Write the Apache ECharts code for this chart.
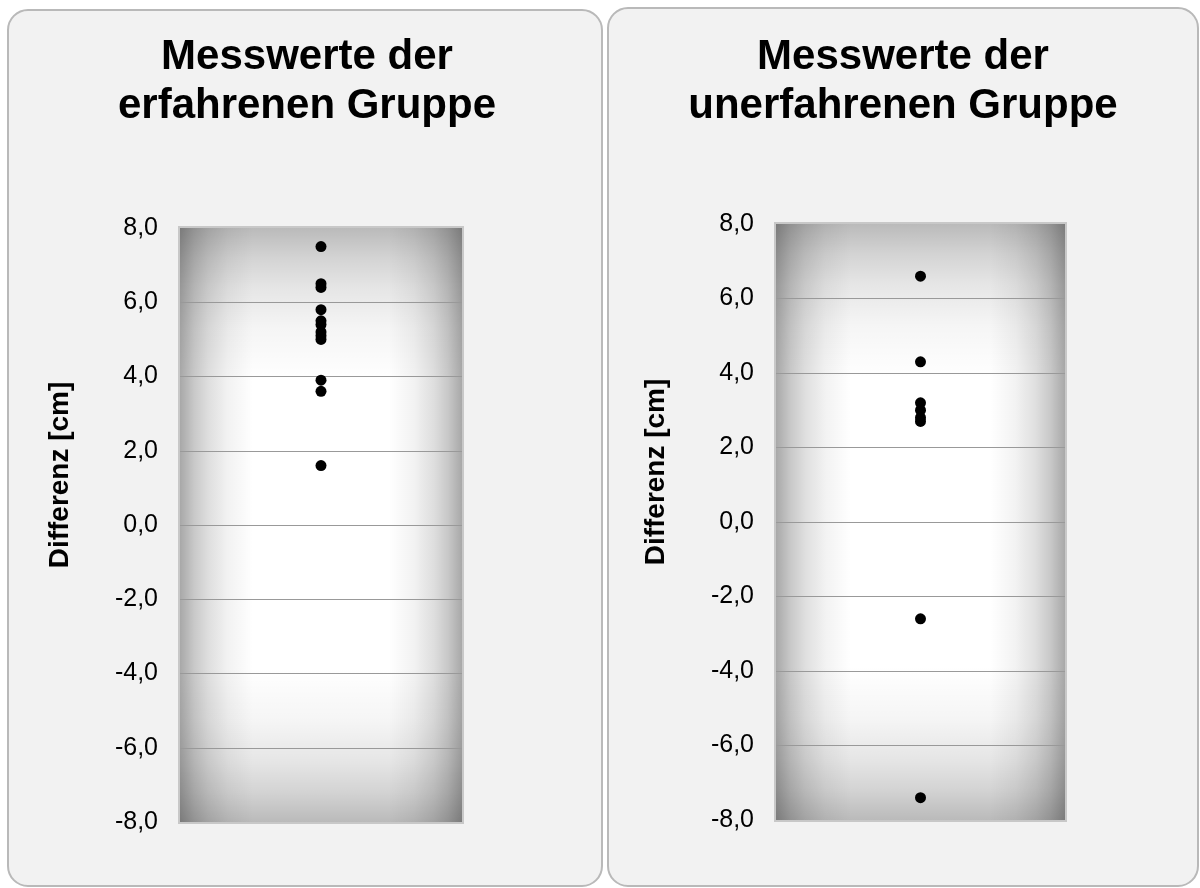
<!DOCTYPE html>
<html><head><meta charset="utf-8">
<script src="https://cdn.jsdelivr.net/npm/echarts@6/dist/echarts.min.js"></script>
<style>html,body{margin:0;padding:0;background:#fff;}#c{width:1200px;height:888px;}</style>
</head><body><div id="c"></div>
<script>
// ---- data ----
const titles = ['Messwerte der\nerfahrenen Gruppe', 'Messwerte der\nunerfahrenen Gruppe'];
const yAxisName = 'Differenz [cm]';
const experienced = [7.5, 6.5, 6.4, 5.8, 5.5, 5.4, 5.2, 5.1, 5.0, 3.9, 3.6, 1.6];
const inexperienced = [6.6, 4.3, 3.2, 3.0, 2.8, 2.7, -2.6, -7.4];
const yMin = -8, yMax = 8, yStep = 2;

// ---- layout ----
const panels = [
  {x: 8, y: 10, w: 594, h: 876},
  {x: 608, y: 8, w: 590, h: 878}
];
const titleCenters = [302, 898];
const grids = [
  {left: 180, top: 228, width: 282, height: 594},
  {left: 776, top: 224, width: 289, height: 596}
];

function ramp(a, dir) {
  const s = [[0, a], [0.05, a * 0.64], [0.1, a * 0.38], [0.17, a * 0.15], [0.26, 0]];
  const stops = [];
  s.forEach(p => stops.push({offset: p[0], color: 'rgba(0,0,0,' + p[1] + ')'}));
  s.slice().reverse().forEach(p => stops.push({offset: 1 - p[0], color: 'rgba(0,0,0,' + p[1] + ')'}));
  return {type: 'linear', x: 0, y: 0, x2: dir === 'h' ? 1 : 0, y2: dir === 'h' ? 0 : 1, colorStops: stops};
}

const graphics = [];
panels.forEach(p => graphics.push({
  type: 'rect', z: -20, silent: true,
  shape: {x: p.x, y: p.y, width: p.w, height: p.h, r: 20},
  style: {fill: '#f2f2f2', stroke: '#b9b9b9', lineWidth: 2}
}));
grids.forEach(g => {
  graphics.push({type: 'rect', z: -10, silent: true,
    shape: {x: g.left - 1, y: g.top - 1, width: g.width + 2, height: g.height + 2},
    style: {fill: '#ffffff', stroke: '#c8c8c8', lineWidth: 2}});
  graphics.push({type: 'rect', z: -9, silent: true,
    shape: {x: g.left, y: g.top, width: g.width, height: g.height},
    style: {fill: ramp(0.27, 'v')}});
  graphics.push({type: 'rect', z: -8, silent: true,
    shape: {x: g.left, y: g.top, width: g.width, height: g.height},
    style: {fill: ramp(0.34, 'h')}});
});

const fmt = v => v.toFixed(1).replace('.', ',');

function yAxis(i) {
  return {
    type: 'value', gridIndex: i, min: yMin, max: yMax, interval: yStep,
    axisLine: {show: false}, axisTick: {show: false},
    axisLabel: {formatter: fmt, color: '#000', fontFamily: 'Liberation Sans, Arial', fontSize: 25, margin: 22},
    splitLine: {show: true, showMinLine: false, showMaxLine: false, lineStyle: {color: '#999', width: 1}},
    name: yAxisName, nameLocation: 'middle', nameGap: 106, nameRotate: 90,
    nameTextStyle: {color: '#000', fontFamily: 'Liberation Sans, Arial', fontWeight: 'bold', fontSize: 28, padding: [0, 0, 0, 100]}
  };
}
function xAxis(i) {
  return {type: 'value', gridIndex: i, min: 0, max: 2, show: false};
}

const option = {
  animation: false,
  backgroundColor: '#ffffff',
  graphic: graphics,
  title: titles.map((t, i) => ({
    text: t, left: titleCenters[i], top: 28, textAlign: 'center',
    textStyle: {color: '#000', fontFamily: 'Liberation Sans, Arial', fontWeight: 'bold', fontSize: 42, lineHeight: 49}
  })),
  grid: grids.map(g => Object.assign({containLabel: false}, g)),
  xAxis: [xAxis(0), xAxis(1)],
  yAxis: [yAxis(0), yAxis(1)],
  series: [
    {type: 'scatter', xAxisIndex: 0, yAxisIndex: 0, symbolSize: 11, itemStyle: {color: '#000', opacity: 1},
     data: experienced.map(v => [1, v])},
    {type: 'scatter', xAxisIndex: 1, yAxisIndex: 1, symbolSize: 11, itemStyle: {color: '#000', opacity: 1},
     data: inexperienced.map(v => [1, v])}
  ]
};
echarts.init(document.getElementById('c')).setOption(option);
</script></body></html>
